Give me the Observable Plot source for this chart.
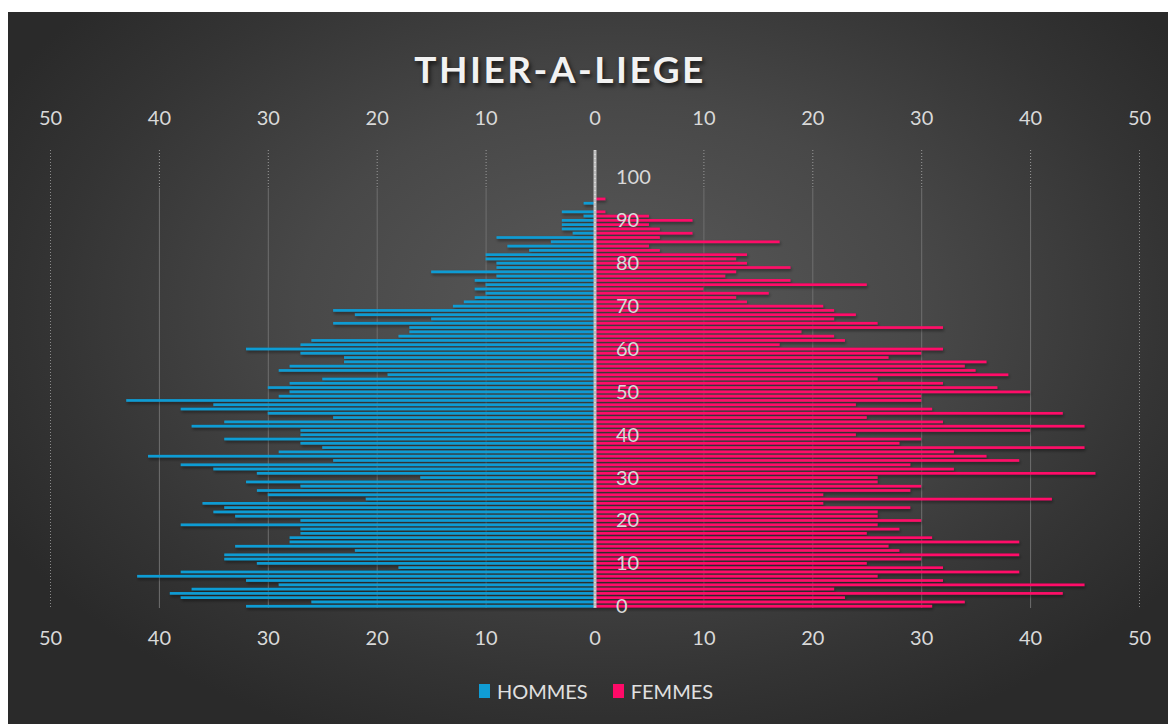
<!DOCTYPE html>
<html>
<head>
<meta charset="utf-8">
<script src="https://cdn.jsdelivr.net/npm/d3@7"></script>
<script src="https://cdn.jsdelivr.net/npm/@observablehq/plot@0.6"></script>
<style>
  html, body { margin: 0; padding: 0; background: #ffffff; }
  #page { position: relative; width: 1168px; height: 724px; overflow: hidden; font-family: Lato, "Open Sans", sans-serif; }
  #bg { position: absolute; left: 8px; top: 12px; right: 0; bottom: 0;
        background: radial-gradient(ellipse 60% 65% at 52% 42%, #5a5a5a 0%, #484848 45%, #343434 80%, #2a2a2a 100%); }
  #title { position: absolute; left: 360px; width: 400px; top: 49px; text-align: center;
           font-family: Lato, sans-serif; font-weight: 700; font-size: 37px; letter-spacing: 2.5px;
           color: #f2f2f2; text-shadow: 2px 3px 4px rgba(0,0,0,0.65); line-height: 1.1; }
  #chart { position: absolute; left: 0; top: 0; }
  #legend { position: absolute; left: 0; width: 1168px; top: 679px; display: flex; justify-content: center;
            padding-left: 24px; box-sizing: border-box;
            gap: 25px; font-family: Lato, sans-serif; font-size: 20px; color: #e0e0e0; }
  #legend span.item { display: flex; align-items: center; gap: 7px; }
  #legend span.sw { display: inline-block; width: 11px; height: 14px; }
</style>
</head>
<body>
<div id="page">
  <div id="bg"></div>
  <div id="chart"></div>
  <div id="title">THIER-A-LIEGE</div>
  <div id="legend"></div>
</div>
<script>
// ---- data (ages 0..95) ----
const ages = d3.range(0, 96);
const hommes = [
  32,26,38,39,37,29,32,42,38,18,
  31,34,34,22,33,28,28,27,27,38,
  27,33,35,34,36,21,30,31,27,32,
  16,31,35,38,24,41,29,25,27,34,
  27,27,37,34,24,30,38,35,43,29,
  28,30,28,25,19,29,28,23,23,27,
  32,27,26,18,17,17,24,15,22,24,
  13,12,11,10,11,10,11,9,15,9,
  9,10,10,6,8,4,9,2,3,3,
  3,1,3,0,1,0
];
const femmes = [
  31,34,23,43,22,45,32,26,39,32,
  25,30,39,28,27,39,31,25,28,26,
  30,26,26,29,21,42,21,29,30,26,
  26,46,33,29,39,36,33,45,28,30,
  24,40,45,32,25,43,31,24,30,30,
  40,37,32,26,38,35,34,36,27,30,
  32,17,23,22,19,32,26,22,24,22,
  21,14,13,16,10,25,18,12,13,18,
  14,13,14,6,5,17,6,9,6,5,
  9,5,1,0,0,1
];
const seriesNames = ["HOMMES", "FEMMES"];
const seriesColors = ["#109cd4", "#ff0a68"];
const xTicks = [-50, -40, -30, -20, -10, 0, 10, 20, 30, 40, 50];
const yLabels = [0, 10, 20, 30, 40, 50, 60, 70, 80, 90, 100];
const ageDomain = d3.range(106, -1, -1); // 0 at bottom

const rows = ages.map((a, i) => ({age: a, hommes: hommes[i], femmes: femmes[i]}));

const inner = xTicks.filter(d => Math.abs(d) !== 50 && d !== 0);
const outer = xTicks.filter(d => Math.abs(d) === 50);

const plot = Plot.plot({
  width: 1168,
  height: 724,
  marginLeft: 50,
  marginRight: 29,
  marginTop: 150,
  marginBottom: 116,
  style: {background: "transparent", color: "#d9d9d9", fontFamily: "Lato, sans-serif", fontSize: "20px", overflow: "visible"},
  x: {domain: [-50, 50], axis: null},
  y: {type: "band", domain: ageDomain, paddingInner: 0.38, paddingOuter: 0.1, round: false, axis: null},
  marks: [
    Plot.ruleX(inner, {x: d => d, stroke: "#9a9a9a", strokeWidth: 1, strokeDasharray: "1,2", insetBottom: 420}),
    Plot.ruleX(inner, {x: d => d, stroke: "#6f6f6f", strokeWidth: 1, insetTop: 38}),
    Plot.ruleX(outer, {x: d => d, stroke: "#8a8a8a", strokeWidth: 1, strokeDasharray: "1,2"}),
    Plot.barX(rows, {y: "age", x: d => -d.hommes, fill: seriesColors[0]}),
    Plot.barX(rows, {y: "age", x: d => d.femmes, fill: seriesColors[1]}),
    Plot.ruleX([0], {stroke: "#bdbdbd", strokeWidth: 3}),
    Plot.ruleX([0], {stroke: "#f0f0f0", strokeWidth: 1, strokeDasharray: "1,3"}),
    Plot.text(xTicks, {x: d => d, frameAnchor: "top", lineAnchor: "middle", dy: -32, text: d => String(Math.abs(d)), fill: "#d9d9d9", fontSize: 20}),
    Plot.text(xTicks, {x: d => d, frameAnchor: "bottom", lineAnchor: "middle", dy: 30, text: d => String(Math.abs(d)), fill: "#d9d9d9", fontSize: 20}),
    Plot.text(yLabels, {x: () => 0, y: d => d, dx: 21, textAnchor: "start", lineAnchor: "middle", text: d => String(d), fill: "#d9d9d9", fontSize: 20})
  ]
});

// subtle drop shadow under bars
const ns = "http://www.w3.org/2000/svg";
const defs = document.createElementNS(ns, "defs");
defs.innerHTML = '<filter id="sh" x="-5%" y="-100%" width="110%" height="400%"><feDropShadow dx="1" dy="2" stdDeviation="1.5" flood-color="#000" flood-opacity="0.45"/></filter>';
plot.insertBefore(defs, plot.firstChild);
plot.querySelectorAll('g[aria-label="bar"]').forEach(g => g.setAttribute("filter", "url(#sh)"));

document.getElementById("chart").appendChild(plot);

const legend = document.getElementById("legend");
seriesNames.forEach((name, i) => {
  const item = document.createElement("span");
  item.className = "item";
  const sw = document.createElement("span");
  sw.className = "sw";
  sw.style.background = seriesColors[i];
  item.appendChild(sw);
  item.appendChild(document.createTextNode(name));
  legend.appendChild(item);
});
</script>
</body>
</html>
